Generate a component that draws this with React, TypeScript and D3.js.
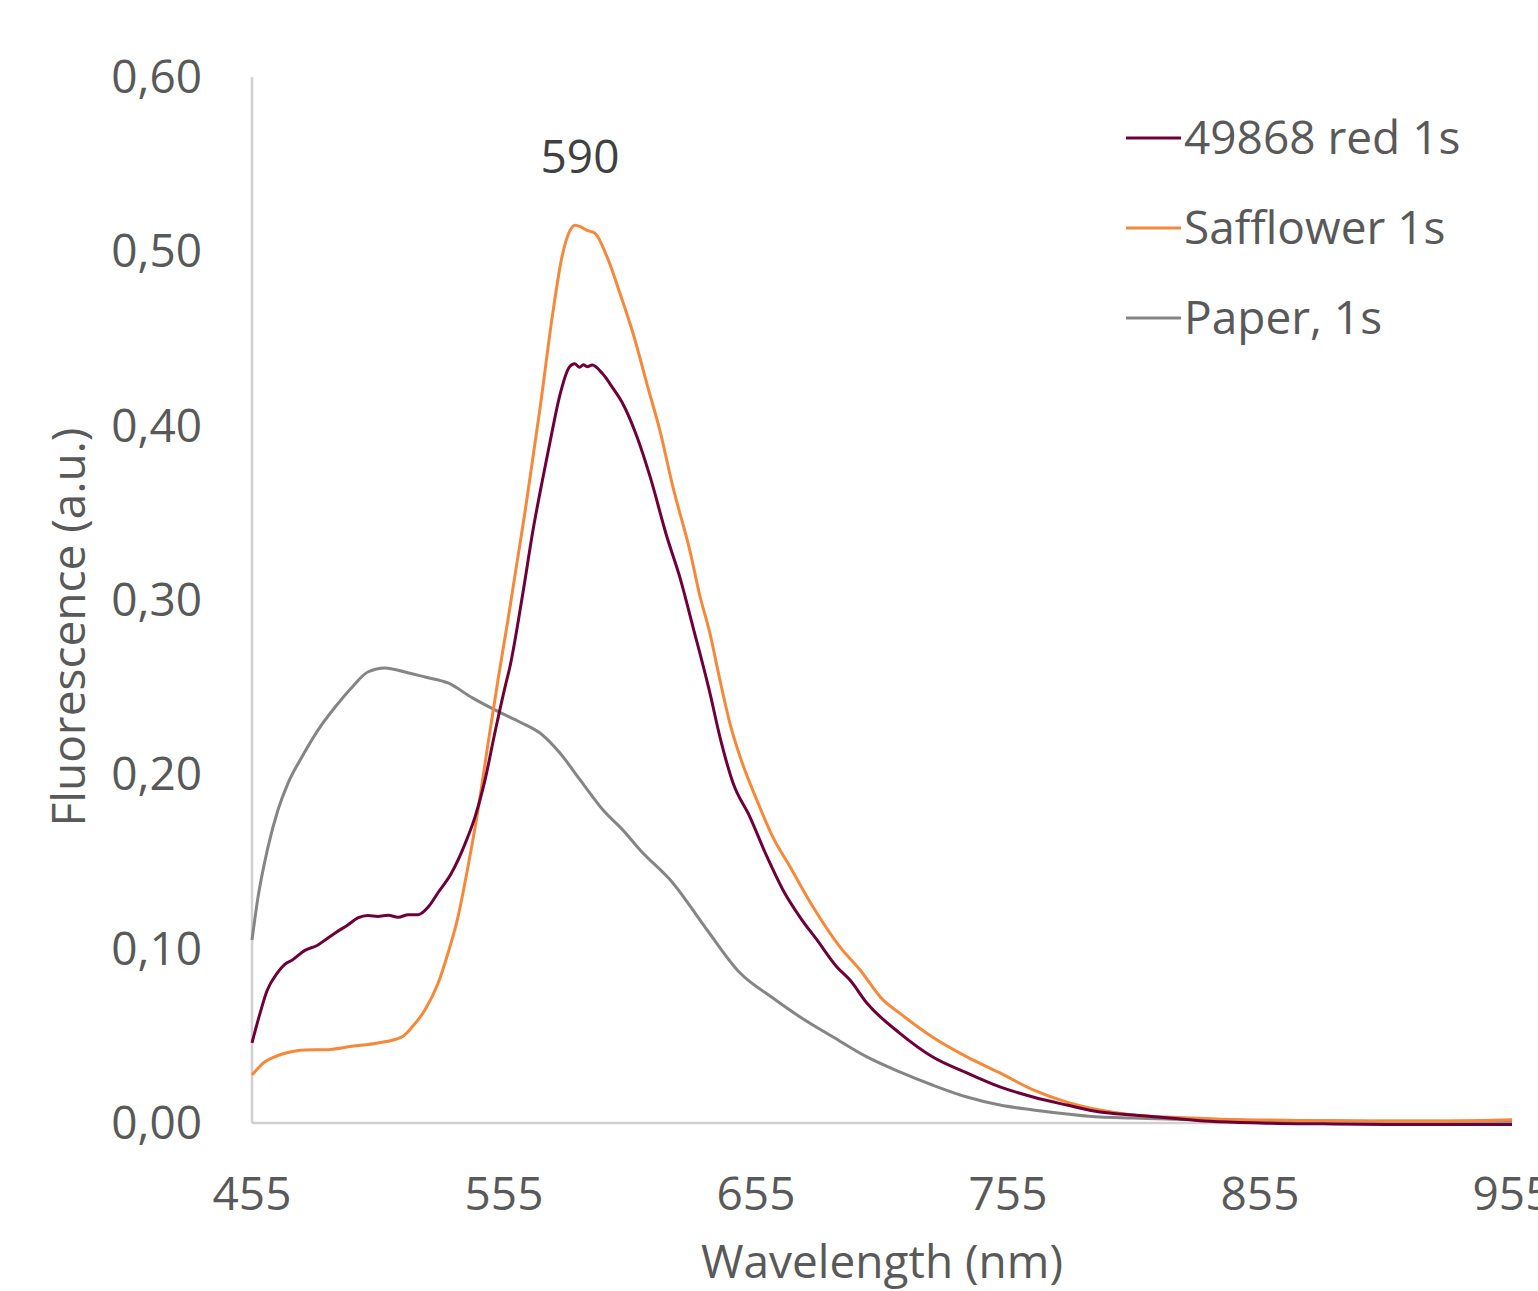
import React from "react";
import * as d3 from "d3";

const xTicks = [455, 555, 655, 755, 855, 955];
const yTicks = [0, 0.1, 0.2, 0.3, 0.4, 0.5, 0.6];
const seriesNames = ["49868 red 1s", "Safflower 1s", "Paper, 1s"];
const seriesColors = ["#6E0038", "#F5883A", "#858585"];

const redNm = [455, 458, 461, 465, 468, 471, 476, 481, 485, 488, 493, 497, 501, 505, 509, 513, 517, 521, 525, 529, 534, 539.5, 543.5, 547.5, 551.4, 555.4, 557.4, 562.5, 566.5, 570.5, 574, 577, 581, 583, 585, 586.5, 588, 590, 594, 598, 602, 607.8, 613, 619.7, 624.8, 630, 636.7, 640.7, 645.9, 652.6, 659.4, 665.7, 672.5, 679.2, 687.1, 692.3, 699, 712, 725, 738.7, 751.8, 764.9, 778.4, 791.5, 804.6, 818, 835, 855, 880, 905, 930, 955];
const redVal = [0.046, 0.062, 0.076, 0.086, 0.091, 0.0935, 0.099, 0.102, 0.106, 0.109, 0.1136, 0.1176, 0.119, 0.1185, 0.1192, 0.118, 0.1195, 0.1195, 0.124, 0.1325, 0.143, 0.16, 0.1756, 0.197, 0.224, 0.25, 0.262, 0.304, 0.34, 0.3706, 0.396, 0.4165, 0.4337, 0.4355, 0.4335, 0.435, 0.4338, 0.4348, 0.43, 0.422, 0.413, 0.3935, 0.3706, 0.336, 0.313, 0.2845, 0.2467, 0.2214, 0.195, 0.1755, 0.1526, 0.1337, 0.118, 0.105, 0.0895, 0.082, 0.0688, 0.0516, 0.038, 0.0287, 0.0207, 0.0149, 0.0103, 0.0063, 0.0046, 0.003, 0.001, 0.0, -0.0005, -0.0008, -0.0008, -0.0008];

const safNm = [455, 460, 464, 468, 476, 484, 494.7, 505, 514.5, 518.5, 523.6, 528.8, 532.8, 536.7, 540.7, 544.7, 548.7, 552.6, 556.5, 560, 563.5, 569.3, 574.4, 578, 581.2, 583.2, 585.5, 588, 591, 595.9, 601, 606.2, 611.7, 616.9, 622, 628.8, 632.8, 636.7, 640.7, 644.7, 648.7, 655.4, 661.7, 668.5, 677.6, 688.3, 696.3, 705.4, 712, 725, 738.7, 751.8, 765, 778.4, 791.5, 804.6, 818, 840, 870, 900, 930, 955];
const safVal = [0.0275, 0.035, 0.038, 0.04, 0.0419, 0.042, 0.044, 0.0459, 0.0494, 0.055, 0.0648, 0.08, 0.0975, 0.118, 0.147, 0.1795, 0.218, 0.254, 0.288, 0.32, 0.352, 0.41, 0.465, 0.4968, 0.512, 0.515, 0.514, 0.512, 0.5105, 0.4968, 0.476, 0.453, 0.424, 0.397, 0.365, 0.328, 0.302, 0.281, 0.254, 0.229, 0.21, 0.185, 0.164, 0.147, 0.124, 0.101, 0.0878, 0.0706, 0.063, 0.0493, 0.0379, 0.0287, 0.019, 0.012, 0.0075, 0.0046, 0.0034, 0.0022, 0.0015, 0.0012, 0.0012, 0.0018];

const papNm = [455, 457.4, 461.3, 465.3, 469.3, 474.8, 481.2, 488, 494.7, 501, 507.8, 515.7, 523.7, 532.8, 542.3, 553, 561.3, 569.3, 577.2, 585.2, 594.3, 602.2, 609, 622, 635.6, 648.7, 661.7, 672.5, 685.6, 699, 712, 725, 738.7, 751.8, 765, 778.4, 791.5, 804.6, 818, 850, 900, 955];
const papVal = [0.105, 0.1296, 0.158, 0.1795, 0.195, 0.21, 0.2254, 0.2386, 0.25, 0.2587, 0.261, 0.2587, 0.2558, 0.2524, 0.244, 0.2358, 0.23, 0.2237, 0.2122, 0.1968, 0.1795, 0.168, 0.1566, 0.1377, 0.1107, 0.086, 0.0717, 0.0608, 0.0493, 0.0379, 0.0293, 0.0218, 0.0149, 0.0103, 0.0075, 0.0052, 0.0034, 0.0029, 0.0023, 0.0015, 0.001, 0.001];

const seriesNm = [redNm, safNm, papNm];
const seriesVal = [redVal, safVal, papVal];

const W = 1538;
const H = 1291;
const FONT = "'Open Sans', 'Noto Sans', sans-serif";
const TXT = "#595959";

export default function App() {
  const x = d3.scaleLinear().domain([455, 955]).range([252, 1512]);
  const y = d3.scaleLinear().domain([0, 0.6]).range([1123, 77]);
  const line = d3
    .line<[number, number]>()
    .x((d) => x(d[0]))
    .y((d) => y(d[1]))
    .curve(d3.curveMonotoneX);

  const fmt = (v: number) => v.toFixed(2).replace(".", ",");

  return (
    <svg
      width={W}
      height={H}
      style={{ position: "absolute", left: 0, top: 0, background: "#fff" }}
      fontFamily={FONT}
    >
      <rect x={0} y={0} width={W} height={H} fill="#fff" />
      <line x1={x(455)} x2={x(455)} y1={y(0.6)} y2={y(0)} stroke="#d0d0d0" strokeWidth={2.5} />
      <line x1={x(455)} x2={x(955)} y1={y(0)} y2={y(0)} stroke="#d0d0d0" strokeWidth={2.5} />

      {yTicks.map((t) => (
        <text key={t} x={202} y={y(t) + 16} textAnchor="end" fontSize={46} fill={TXT}>
          {fmt(t)}
        </text>
      ))}
      {xTicks.map((t) => (
        <text key={t} x={x(t)} y={1210} textAnchor="middle" fontSize={46} fill={TXT}>
          {t}
        </text>
      ))}

      {[2, 1, 0].map((i) => (
        <path
          key={i}
          d={line(seriesNm[i].map((n, k) => [n, seriesVal[i][k]] as [number, number])) || ""}
          fill="none"
          stroke={seriesColors[i]}
          strokeWidth={3}
          strokeLinejoin="round"
        />
      ))}

      <text x={580} y={173} textAnchor="middle" fontSize={46} fill="#404040">
        590
      </text>

      {seriesNames.map((name, i) => (
        <g key={name}>
          <line x1={1126} x2={1181} y1={138 + i * 90} y2={138 + i * 90} stroke={seriesColors[i]} strokeWidth={3} />
          <text x={1184} y={154 + i * 90} fontSize={46} fill={TXT}>
            {name}
          </text>
        </g>
      ))}

      <text x={882} y={1278} textAnchor="middle" fontSize={46} fill={TXT}>
        Wavelength (nm)
      </text>
      <text transform={`translate(85, 627) rotate(-90)`} textAnchor="middle" fontSize={46} fill={TXT}>
        Fluorescence (a.u.)
      </text>
    </svg>
  );
}
